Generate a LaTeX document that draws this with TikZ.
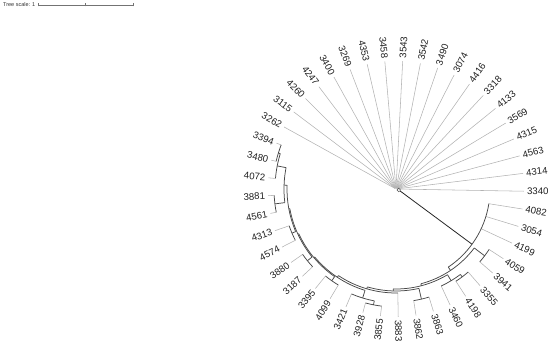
\documentclass[tikz,border=0pt]{standalone}
\usepackage{fontspec}
\setmainfont{Liberation Sans}
\newcommand{\TArc}[3]{\draw[branch] ([shift={(C)}]#1:#3pt) arc[start angle=#1, end angle=#2, radius=#3pt];}
\newcommand{\TRad}[3]{\draw[branch] ([shift={(C)}]#1:#2pt) -- ([shift={(C)}]#1:#3pt);}
\newcommand{\TLeaf}[3]{%
  \draw[leafline] ([shift={(C)}]#2:#3pt) -- ([shift={(C)}]#2:128pt);
  \pgfmathtruncatemacro\tside{((#2>90) && (#2<270)) ? 1 : 0}%
  \ifnum\tside=1
    \node[lab,anchor=east,rotate=#2-180] (n#1) at ([shift={(C)}]#2:131pt) {#1};
  \else
    \node[lab,anchor=west,rotate=#2] (n#1) at ([shift={(C)}]#2:131pt) {#1};
  \fi}
\begin{document}
\begin{tikzpicture}[x=1pt,y=1pt,
  lab/.style={font=\fontsize{9.6}{10}\selectfont, inner sep=0pt, text=black!88},
  leafline/.style={draw=black!30, line width=0.55pt},
  branch/.style={draw=black!72, line width=0.75pt},
  stem/.style={draw=black!85, line width=0.8pt}]
\useasboundingbox (0,0) rectangle (550,-347);
\coordinate (C) at (396,-189);
% star clade
\foreach \nm [count=\i from 0] in {3340,4314,4563,4315,3569,4133,3318,4416,3074,3490,3542,3543,3458,4353,3269,3400,4247,4260,3115,3262}{
  \pgfmathtruncatemacro\ang{8*\i-1}
  \TLeaf{\nm}{\ang}{1}
}
% lower clade leaves
\TLeaf{4082}{351}{94}
\TLeaf{3054}{343}{94}
\TLeaf{4199}{335}{94}
\TLeaf{4059}{327}{111}
\TLeaf{3941}{319}{111}
\TLeaf{3460}{295}{107}
\TLeaf{3355}{311}{110}
\TLeaf{4198}{303}{110}
\TLeaf{3863}{287}{113}
\TLeaf{3862}{279}{113}
\TLeaf{3883}{271}{104}
\TLeaf{3421}{247}{114}
\TLeaf{3855}{263}{118}
\TLeaf{3928}{255}{118}
\TLeaf{4099}{239}{112}
\TLeaf{3395}{231}{112}
\TLeaf{3187}{223}{114}
\TLeaf{3880}{215}{114}
\TLeaf{4574}{207}{113}
\TLeaf{4313}{199}{113}
\TLeaf{4561}{191}{122}
\TLeaf{3881}{183}{122}
\TLeaf{4072}{175}{121}
\TLeaf{3480}{167}{123}
\TLeaf{3394}{159}{123}
% internal branches
\TArc{351}{303.8}{94}
\TRad{303.8}{94}{98}
\TArc{323}{284.7}{98}
\TRad{323}{98}{111}
\TRad{284.7}{98}{100}
\TArc{327}{319}{111}
\TArc{301}{268.4}{100}
\TRad{301}{100}{107}
\TRad{268.4}{100}{102}
\TArc{307}{295}{107}
\TRad{307}{107}{110}
\TArc{311}{303}{110}
\TArc{283}{253.7}{102}
\TRad{283}{102}{113}
\TRad{253.7}{102}{104}
\TArc{287}{279}{113}
\TArc{271}{236.4}{104}
\TRad{236.4}{104}{106}
\TArc{253}{219.9}{106}
\TRad{253}{106}{114}
\TRad{219.9}{106}{107}
\TArc{259}{247}{114}
\TRad{259}{114}{118}
\TArc{263}{255}{118}
\TArc{235}{204.75}{107}
\TRad{235}{107}{112}
\TRad{204.75}{107}{108}
\TArc{239}{231}{112}
\TArc{219}{190.5}{108}
\TRad{219}{108}{114}
\TRad{190.5}{108}{109}
\TArc{223}{215}{114}
\TArc{203}{178}{109}
\TRad{203}{109}{113}
\TRad{178}{109}{112}
\TArc{207}{199}{113}
\TArc{187}{169}{112}
\TRad{187}{112}{122}
\TRad{169}{112}{121}
\TArc{191}{183}{122}
\TArc{175}{163}{121}
\TRad{163}{121}{123}
\TArc{167}{159}{123}
% main branch and root
\coordinate (rootc) at ([shift={(C)}]-20:3pt);
\coordinate (n1) at ([shift={(C)}]324:94pt);
\draw[stem] (rootc) -- (n1);
\draw[black!70, fill=white, line width=0.5pt] (rootc) circle (1.8pt);
% tree scale
\node[font=\fontsize{5.5}{6}\selectfont, anchor=west, inner sep=0pt, text=black!80] (ts) at (3,-5) {Tree scale: 1};
\coordinate (sb1) at (38,-5);
\coordinate (sbm) at (85.5,-5);
\coordinate (sb2) at (133,-5);
\draw[black!55, line width=0.4pt] (sb1) -- (sb2);
\foreach \p in {sb1,sbm,sb2}{\draw[black!55, line width=0.4pt] ([yshift=-1.5pt]\p) -- ([yshift=1.5pt]\p);}
\end{tikzpicture}
\end{document}
